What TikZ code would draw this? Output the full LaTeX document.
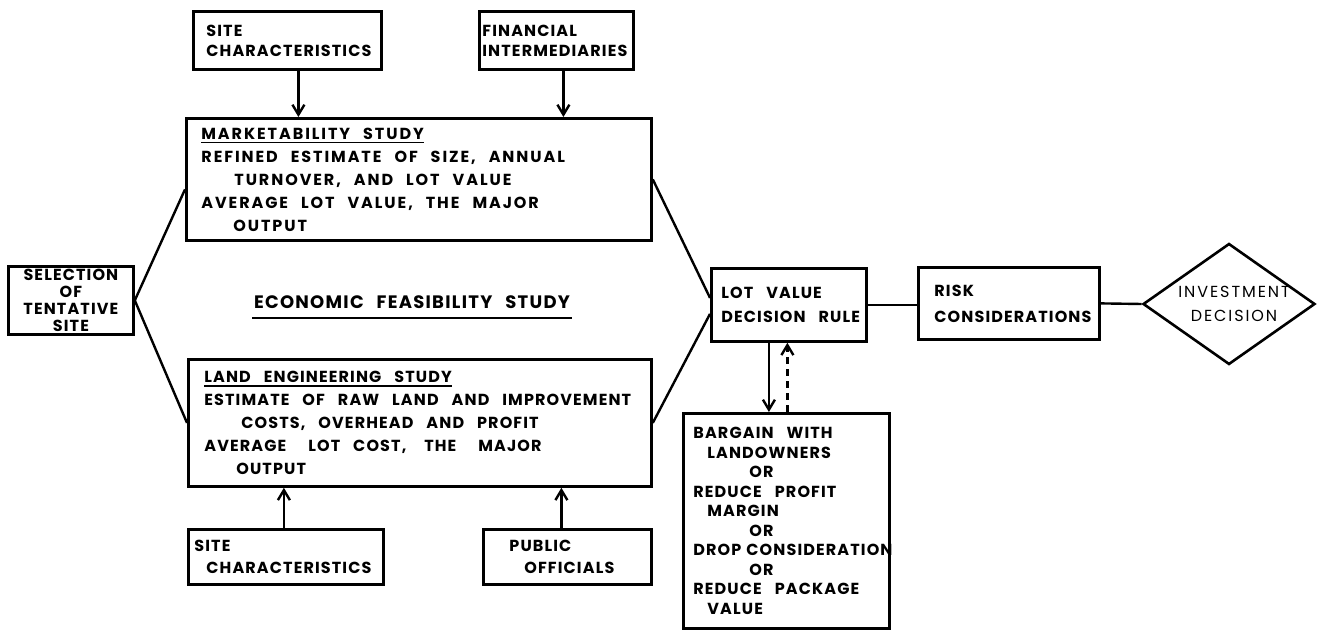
\documentclass[tikz,border=0pt]{standalone}
\usepackage{fontspec}
\setmainfont{Poppins}[LetterSpace=7]
\usetikzlibrary{arrows.meta,calc,shapes.geometric}

% underlined box heading
\newsavebox\headbox
\newcommand\headul[1]{\sbox\headbox{#1}\rlap{\rule[-2.2pt]{\wd\headbox}{0.8pt}}\usebox\headbox}
% heavier underline for the free-standing title
\newcommand\titleul[1]{\sbox\headbox{#1}\rlap{\hspace*{-1pt}\rule[-5pt]{\dimexpr\wd\headbox+2pt\relax}{1.2pt}}\usebox\headbox}
% wide word spacing, no hyphenation
\newcommand\wide{\spaceskip=6.5pt plus 1pt\relax\hyphenpenalty=10000\exhyphenpenalty=10000\relax}

\tikzset{
  blk/.style={draw, line width=1.4pt, rectangle, anchor=north west, align=left,
    inner ysep=0pt, font=\fontsize{8}{11.5}\selectfont\bfseries, execute at begin node=\wide},
  link/.style={line width=1.2pt},
  arr/.style={line width=1.2pt, -{Straight Barb[length=5pt,width=6pt,line width=1.2pt]}},
  darr/.style={arr, dash pattern=on 3.5pt off 2.5pt},
}

\begin{document}
\begin{tikzpicture}[x=0.5pt,y=-0.5pt]
\useasboundingbox (0,0) rectangle (1317,630);

% input boxes, top
\node[blk, inner xsep=6.5pt, minimum width=94pt, minimum height=29pt, text width=81pt,
  font=\fontsize{8}{10}\selectfont\bfseries] (sc1) at (192,10) {SITE\\CHARACTERISTICS};
\node[blk, inner xsep=1.5pt, minimum width=77pt, minimum height=29pt, text width=74pt,
  font=\fontsize{8}{10}\selectfont\bfseries] (fi) at (478,10) {FINANCIAL\\INTERMEDIARIES};

% marketability study
\node[blk, inner xsep=7.5pt, minimum width=232.5pt, minimum height=61pt, text width=217.5pt,
  font=\fontsize{8}{11.5}\selectfont\bfseries\addfontfeature{LetterSpace=12}] (mk) at (185,117)
 {\headul{MARKETABILITY STUDY}\\
  REFINED ESTIMATE OF SIZE, ANNUAL\\
  \hspace*{16.5pt}TURNOVER, AND LOT VALUE\\
  AVERAGE LOT VALUE, THE MAJOR\\
  \hspace*{16pt}OUTPUT};

% land engineering study
\node[blk, inner xsep=8pt, minimum width=231.5pt, minimum height=63.5pt, text width=215.5pt] (le) at (187,358)
 {\headul{LAND ENGINEERING STUDY}\\
  ESTIMATE OF RAW LAND AND IMPROVEMENT\\
  \hspace*{18.5pt}COSTS, OVERHEAD AND PROFIT\\
  AVERAGE\hspace{4.5pt} LOT COST,\hspace{2.5pt} THE\hspace{4.5pt} MAJOR\\
  \hspace*{16pt}OUTPUT};

% input boxes, bottom
\node[blk, inner xsep=3pt, minimum width=97.5pt, minimum height=27.5pt, text width=91.5pt,
  font=\fontsize{8}{11}\selectfont\bfseries] (sc2) at (187,528) {SITE\\\hspace*{6pt}CHARACTERISTICS};
\node[blk, inner xsep=13pt, minimum width=84pt, minimum height=27.5pt, text width=58pt,
  font=\fontsize{8}{11}\selectfont\bfseries] (po) at (482,528) {PUBLIC\\\hspace*{7.5pt}OFFICIALS};

% starting point
\node[blk, inner xsep=2pt, minimum width=62.5pt, minimum height=34pt, text width=58.5pt, align=center,
  font=\fontsize{8}{8.6}\selectfont\bfseries] (sel) at (7,265) {SELECTION\\OF\\TENTATIVE\\SITE};

% study title
\node[font=\fontsize{9}{10}\selectfont\bfseries, execute at begin node=\wide, inner sep=0pt, anchor=base]
  (ecfs) at (412,309) {\titleul{ECONOMIC FEASIBILITY STUDY}};

% decision chain
\node[blk, inner xsep=5pt, minimum width=77.5pt, minimum height=36.5pt, text width=67.5pt,
  font=\fontsize{8}{12}\selectfont\bfseries] (lot) at (710,267) {\mbox{LOT VALUE}\\\mbox{DECISION RULE}};
\node[blk, inner xsep=8pt, minimum width=90.5pt, minimum height=36pt, text width=74.5pt,
  font=\fontsize{8}{13}\selectfont\bfseries] (risk) at (917,266) {RISK\\CONSIDERATIONS};
\node[draw, diamond, line width=1.3pt, minimum width=86pt, minimum height=60.5pt, inner sep=0pt] (inv) at (1229,304) {};
\node[font=\fontsize{8}{12}\selectfont\addfontfeature{LetterSpace=12}, align=center, inner sep=0pt]
  (invt) at ($(inv.center)+(5,0)$) {INVESTMENT\\DECISION};

% alternatives
\node[blk, inner xsep=5pt, minimum width=103pt, minimum height=107.5pt, text width=93pt,
  font=\fontsize{8}{9.75}\selectfont\bfseries] (barg) at (682,412)
 {BARGAIN WITH\\
  \hspace*{7pt}LANDOWNERS\\
  \hspace*{28pt}OR\\
  REDUCE PROFIT\\
  \hspace*{7pt}MARGIN\\
  \hspace*{28pt}OR\\
  \mbox{DROP\hspace{2.5pt}CONSIDERATION}\\
  \hspace*{28pt}OR\\
  REDUCE PACKAGE\\
  \hspace*{7pt}VALUE};

% branches of the feasibility study
\draw[link] (sel.east) -- ($(mk.west)+(0,10)$);
\draw[link] (sel.east) -- (le.west);
\draw[link] (mk.east) -- ($(lot.west)+(0,-7)$);
\draw[link] (le.east) -- ($(lot.west)+(0,9)$);
\draw[link] (lot.east) -- (lot.east -| risk.west);
\draw[link] (risk.east) -- (inv.west);

% inputs into the studies
\coordinate (a1) at ($(sc1.south)+(11,0)$);
\coordinate (a2) at ($(fi.south)+(7,0)$);
\coordinate (a3) at ($(sc2.north)+(-2,0)$);
\coordinate (a4) at ($(po.north)+(-6,0)$);
\draw[arr] (a1) -- (a1 |- mk.north);
\draw[arr] (a2) -- (a2 |- mk.north);
\draw[arr] (a3) -- (a3 |- le.south);
\draw[arr] (a4) -- (a4 |- le.south);

% loop between rule and alternatives
\coordinate (b1) at ($(lot.south)+(-20,0)$);
\coordinate (b2) at ($(barg.north)+(1,0)$);
\draw[arr] (b1) -- (b1 |- barg.north);
\draw[darr] (b2) -- (b2 |- lot.south);
\end{tikzpicture}
\end{document}
